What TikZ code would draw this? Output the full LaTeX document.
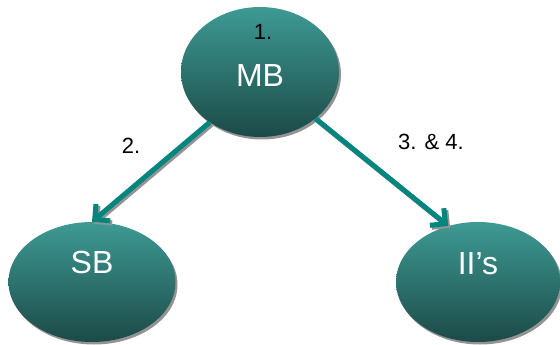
\documentclass[tikz,border=0pt]{standalone}
\usepackage{fontspec}
\setmainfont{Liberation Sans}
\usetikzlibrary{positioning, arrows.meta, shapes.geometric, shadows}

\definecolor{tealtop}{HTML}{3E9A94}
\definecolor{tealbot}{HTML}{1C4A47}
\definecolor{arrowteal}{HTML}{00857F}

\begin{document}
\begin{tikzpicture}[
    x=1pt, y=-1pt,
    blob/.style={ellipse, draw=none, inner sep=0pt, top color=tealtop, bottom color=tealbot,
        drop shadow={shadow xshift=2pt, shadow yshift=-2.5pt, fill=gray!85, opacity=1}},
    blobtext/.style={inner sep=0pt, text=white, font=\fontsize{32}{36}\selectfont},
    step label/.style={inner sep=0pt, text=black, font=\fontsize{22}{26}\selectfont},
    link/.style={-{Straight Barb[length=11pt, width=22pt]}, line width=5pt, arrowteal},
    link shadow/.style={link, draw=gray!85, transform canvas={shift={(2pt,-2pt)}}}
]
\useasboundingbox (0,0) rectangle (560,345);

% ellipses
\node[blob, minimum width=158pt, minimum height=130pt] (mb) at (260,72) {};
\node[blob, minimum width=167pt, minimum height=120pt] (sb) at (92,282) {};
\node[blob, minimum width=164pt, minimum height=120pt] (ii) at (478,282) {};

% texts
\node[blobtext] (mbtext) at ([yshift=-3pt]mb.center) {MB};
\node[blobtext] (sbtext) at ([yshift=20pt]sb.center) {SB};
\node[blobtext] (iitext) at ([yshift=18pt]ii.center) {II’s};

% step numbers
\node[step label] (one) at (263,32) {1.};
\node[step label] (two) at (131,146) {2.};
\node[step label] (three) at (431,142) {3. \& 4.};

% arrows with shadows
\foreach \from/\to in {mb.-135/sb.north, mb.-40/ii.118} {
    \draw[link shadow] (\from) -- (\to);
    \draw[link] (\from) -- (\to);
}

\end{tikzpicture}
\end{document}
